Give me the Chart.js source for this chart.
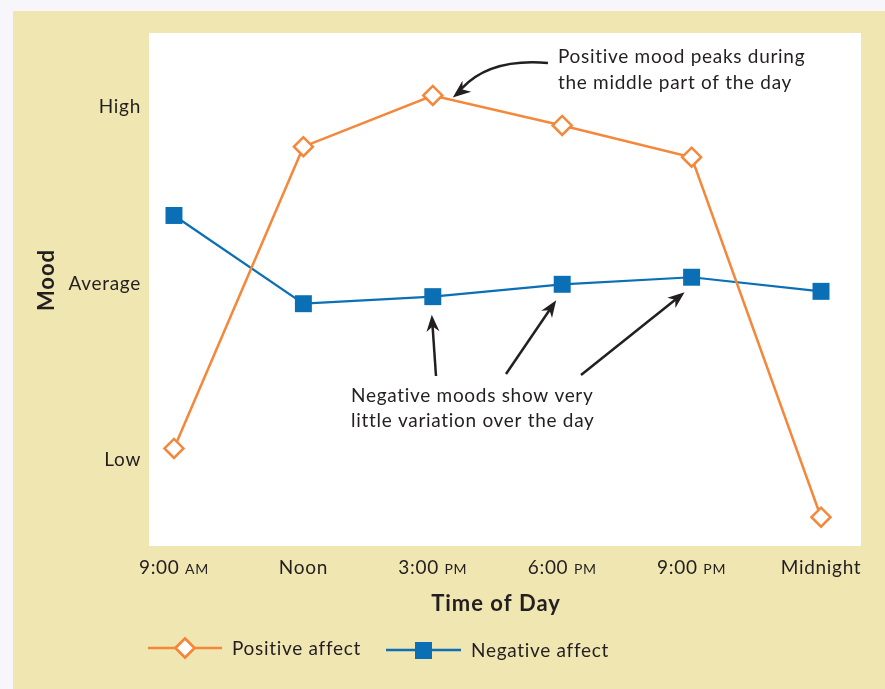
<!DOCTYPE html>
<html>
<head>
<meta charset="utf-8">
<script src="https://cdn.jsdelivr.net/npm/chart.js@4.4.1/dist/chart.umd.min.js"></script>
<style>
  body { margin: 0; background: #ffffff; }
  #wrap { width: 885px; height: 689px; }
</style>
</head>
<body>
<div id="wrap"><canvas id="chart" width="885" height="689"></canvas></div>
<script>
// times of day (x categories), main part + small caps suffix
var timeLabels = ["9:00", "Noon", "3:00", "6:00", "9:00", "Midnight"];
var timeSuffix = ["AM", "", "PM", "PM", "PM", ""];

// mood on a scale where Low = 0, Average = 1, High = 2
var moodTicks = [0, 1, 2];
var moodLabels = ["Low", "Average", "High"];

var positiveAffect = [0.06, 1.77, 2.06, 1.89, 1.71, -0.33];
var negativeAffect = [1.38, 0.88, 0.92, 0.99, 1.03, 0.95];

var orange = "#f5873a";
var blue = "#0a6fb5";
var ink = "#231f20";
var beige = "#f0e6b2";
var font = "Lato, 'Open Sans', sans-serif";

function toPoints(values) {
    return values.map(function (v, i) { return { x: i, y: v }; });
}

function arrowHead(ctx, x, y, angle, len, wid) {
    ctx.save();
    ctx.translate(x, y);
    ctx.rotate(angle);
    ctx.beginPath();
    ctx.moveTo(0, 0);
    ctx.lineTo(-len, -wid / 2);
    ctx.lineTo(-len * 0.7, 0);
    ctx.lineTo(-len, wid / 2);
    ctx.closePath();
    ctx.fill();
    ctx.restore();
}

function straightArrow(ctx, x0, y0, x1, y1) {
    var a = Math.atan2(y1 - y0, x1 - x0);
    ctx.beginPath();
    ctx.moveTo(x0, y0);
    ctx.lineTo(x1 - Math.cos(a) * 10, y1 - Math.sin(a) * 10);
    ctx.stroke();
    arrowHead(ctx, x1, y1, a, 17, 13);
}

var backdrop = {
    id: "backdrop",
    beforeDraw: function (chart) {
        var ctx = chart.ctx;
        var area = chart.chartArea;
        ctx.save();
        ctx.fillStyle = "#f7f6fa";
        ctx.fillRect(0, 0, chart.width, chart.height);
        ctx.fillStyle = beige;
        ctx.fillRect(13, 11, chart.width - 13, chart.height - 11);
        ctx.fillStyle = "#ffffff";
        ctx.fillRect(area.left, area.top, area.right - area.left, area.bottom - area.top);
        ctx.restore();
    }
};

var decorations = {
    id: "decorations",
    afterDraw: function (chart) {
        var ctx = chart.ctx;
        var xs = chart.scales.x;
        var ys = chart.scales.y;
        ctx.save();
        ctx.fillStyle = ink;
        ctx.textBaseline = "middle";
        ctx.letterSpacing = "0.7px";

        // y tick labels
        ctx.font = "19px " + font;
        ctx.textAlign = "right";
        moodTicks.forEach(function (t, i) {
            ctx.fillText(moodLabels[i], 141, ys.getPixelForValue(t) + 1);
        });

        // x tick labels with small caps suffix
        timeLabels.forEach(function (lab, i) {
            var cx = xs.getPixelForValue(i);
            ctx.font = "19px " + font;
            var main = timeSuffix[i] ? lab + " " : lab;
            var w1 = ctx.measureText(main).width;
            ctx.font = "14px " + font;
            var w2 = timeSuffix[i] ? ctx.measureText(timeSuffix[i]).width : 0;
            var x0 = cx - (w1 + w2) / 2;
            ctx.textAlign = "left";
            ctx.font = "19px " + font;
            ctx.fillText(main, x0, 568);
            if (timeSuffix[i]) {
                ctx.font = "14px " + font;
                ctx.fillText(timeSuffix[i], x0 + w1, 569);
            }
        });

        // axis titles
        ctx.letterSpacing = "1px";
        ctx.font = "bold 22px " + font;
        ctx.textAlign = "center";
        ctx.fillText("Time of Day", 496, 604);
        ctx.save();
        ctx.translate(47, 280);
        ctx.rotate(-Math.PI / 2);
        ctx.fillText("Mood", 0, 0);
        ctx.restore();
        ctx.letterSpacing = "0.7px";

        // legend
        ctx.lineWidth = 2.5;
        ctx.strokeStyle = orange;
        ctx.beginPath();
        ctx.moveTo(148, 648);
        ctx.lineTo(222, 648);
        ctx.stroke();
        Chart.helpers.drawPoint(ctx, { pointStyle: "rectRot", radius: 9.5, borderWidth: 2.5 }, 185, 648);
        ctx.fillStyle = "#ffffff";
        ctx.fill();
        ctx.stroke();
        ctx.strokeStyle = blue;
        ctx.beginPath();
        ctx.moveTo(386, 650);
        ctx.lineTo(461, 650);
        ctx.stroke();
        ctx.fillStyle = blue;
        ctx.fillRect(415, 642, 17, 17);
        ctx.fillStyle = ink;
        ctx.font = "19px " + font;
        ctx.textAlign = "left";
        ctx.fillText("Positive affect", 232, 649);
        ctx.fillText("Negative affect", 471, 651);

        // annotations
        ctx.fillText("Positive mood peaks during", 558, 57);
        ctx.fillText("the middle part of the day", 558, 83);
        ctx.fillText("Negative moods show very", 351, 396);
        ctx.fillText("little variation over the day", 351, 421);

        ctx.strokeStyle = ink;
        ctx.fillStyle = ink;
        ctx.lineWidth = 2.5;

        // curved arrow to the positive peak
        var px = xs.getPixelForValue(2) + 20;
        var py = ys.getPixelForValue(positiveAffect[2]) + 2;
        ctx.beginPath();
        ctx.moveTo(548, 63);
        ctx.quadraticCurveTo(490, 58, px + 9, py - 9);
        ctx.stroke();
        arrowHead(ctx, px, py, Math.atan2(py - (py - 12), px - (px + 9)) + 0.25, 18, 14);

        // straight arrows to the negative points
        var offs = [[2, -1, 18], [3, -6, 16], [4, -7, 15]];
        var tails = [[436, 376], [506, 374], [581, 375]];
        offs.forEach(function (o, k) {
            var tx = xs.getPixelForValue(o[0]) + o[1];
            var ty = ys.getPixelForValue(negativeAffect[o[0]]) + o[2];
            straightArrow(ctx, tails[k][0], tails[k][1], tx, ty);
        });
        ctx.restore();
    }
};

new Chart(document.getElementById("chart"), {
    type: "line",
    data: {
        datasets: [{
            label: "Positive affect",
            data: toPoints(positiveAffect),
            borderColor: orange,
            borderWidth: 2.5,
            pointStyle: "rectRot",
            pointRadius: 9.5,
            pointBorderWidth: 2.5,
            pointBackgroundColor: "#ffffff",
            pointBorderColor: orange,
            tension: 0
        }, {
            label: "Negative affect",
            data: toPoints(negativeAffect),
            borderColor: blue,
            borderWidth: 2.2,
            pointStyle: "rect",
            pointRadius: 12,
            pointBorderWidth: 0,
            pointBackgroundColor: blue,
            pointBorderColor: blue,
            tension: 0
        }]
    },
    options: {
        responsive: false,
        animation: false,
        layout: { padding: { left: 149, right: 24, top: 33, bottom: 143 } },
        scales: {
            x: { type: "linear", display: false, min: -0.193, max: 5.309 },
            y: { type: "linear", display: false, min: -0.493, max: 2.414 }
        },
        plugins: {
            legend: { display: false },
            tooltip: { enabled: false }
        }
    },
    plugins: [backdrop, decorations]
});
</script>
</body>
</html>
